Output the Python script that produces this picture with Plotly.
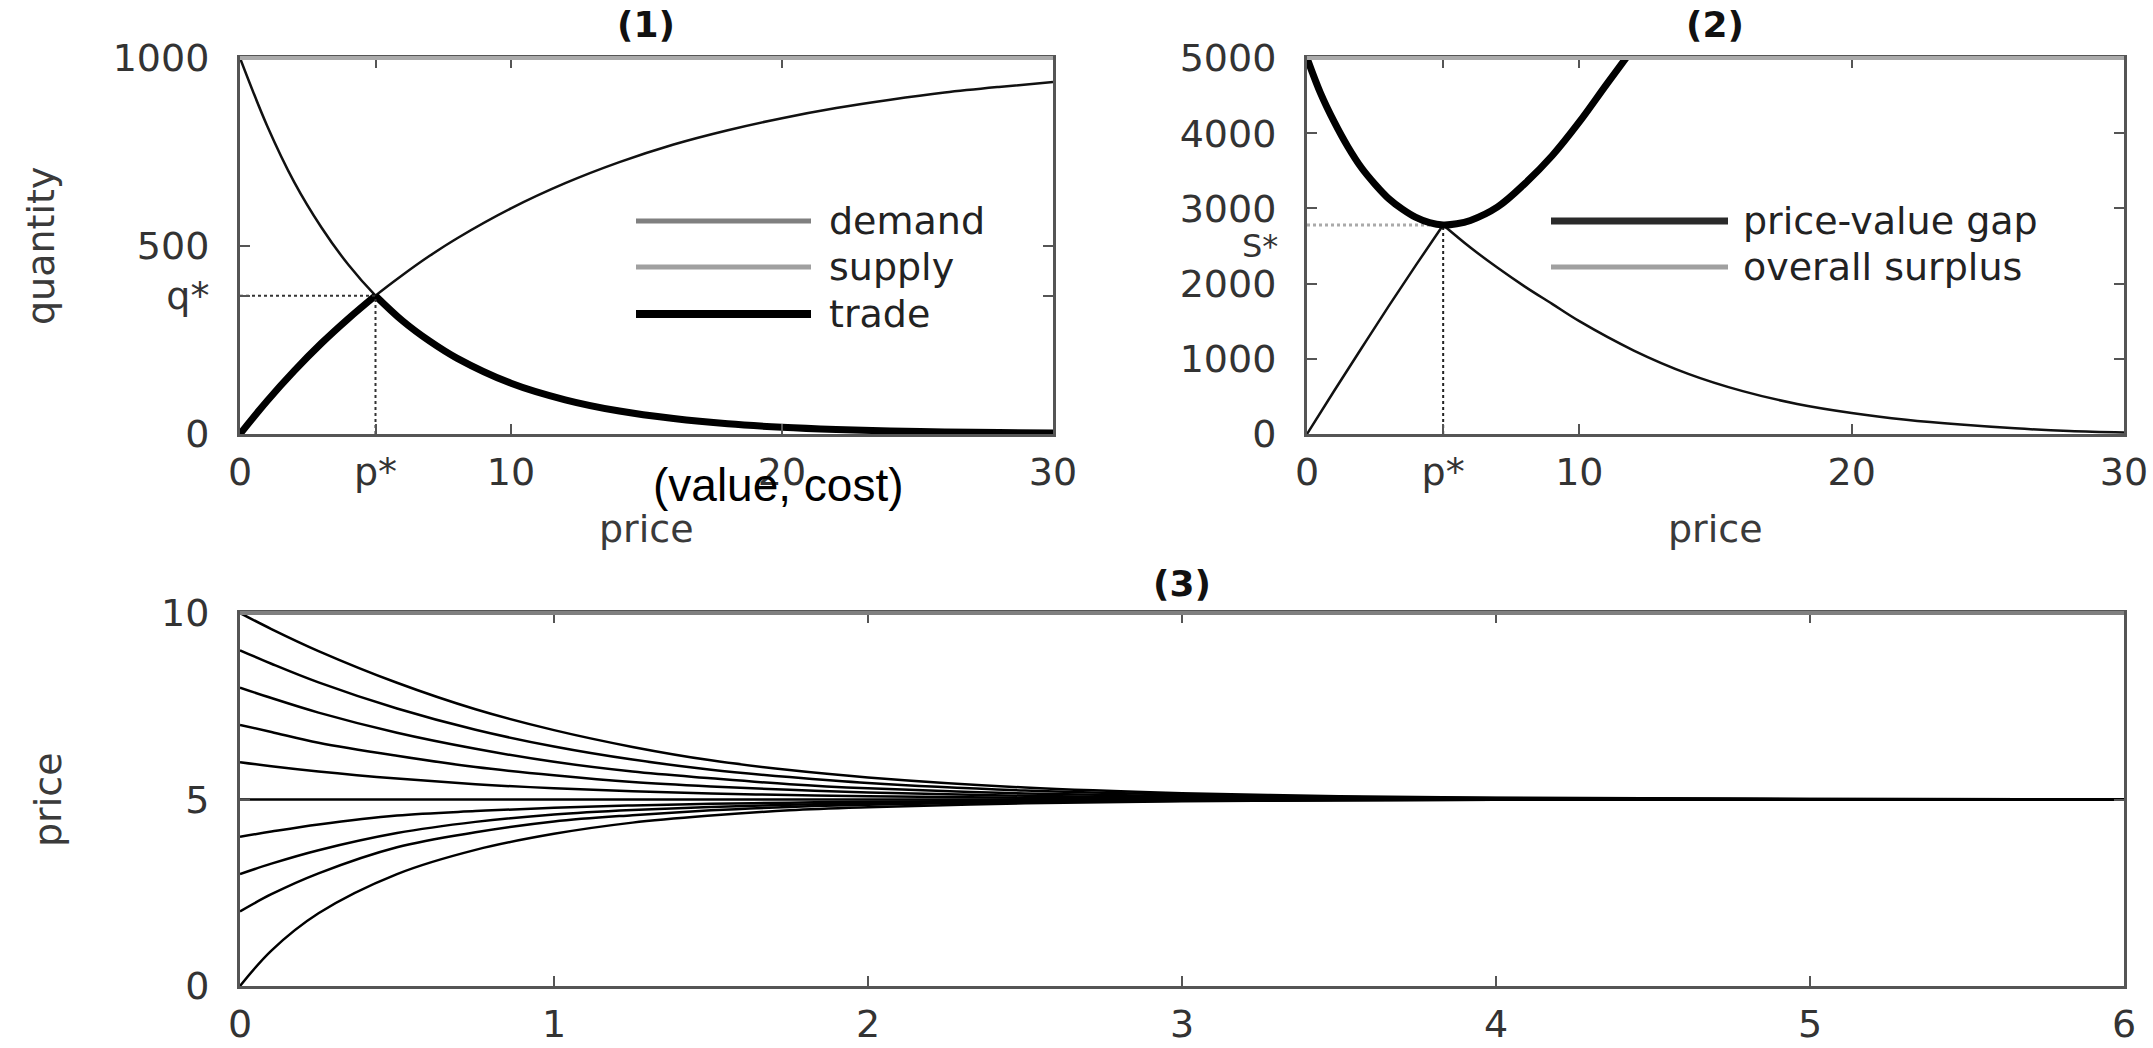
import plotly.graph_objects as go

W, H = 2153, 1048

# ---------------- panel (1): demand / supply / trade ----------------
price_1 = [0, 1, 2, 3, 4, 5, 6, 7, 8, 10, 12, 14, 16, 18, 20, 22, 24, 26, 28, 30]
demand = [1000, 820, 670, 550, 450, 368, 301, 247, 202, 135, 91, 61, 41, 27, 18, 12, 8, 5.5, 3.7, 2.5]
supply = [0, 88, 168, 241, 307, 368, 423, 474, 520, 600, 667, 723, 770, 808, 840, 867, 889, 908, 923, 936]

P_STAR = 5
Q_STAR = 368
S_STAR = 2780

# ---------------- panel (2): price-value gap / overall surplus ----------------
price_gap = [0, 0.5, 1, 1.5, 2, 2.5, 3, 3.5, 4, 4.5, 5, 5.5, 6, 7, 8, 9, 10, 11, 12]
gap = [5000, 4530, 4150, 3820, 3540, 3320, 3130, 2990, 2880, 2810, 2780, 2795, 2840,
       3020, 3330, 3700, 4150, 4650, 5140]
price_surplus = [0, 1, 2, 3, 4, 5, 6, 7, 8, 9, 10, 12, 14, 16, 18, 20, 22, 24, 26, 28, 30]
surplus = [0, 575, 1140, 1700, 2245, 2780, 2480, 2210, 1960, 1730, 1500, 1110, 800, 570,
           400, 280, 190, 125, 75, 40, 20]

# ---------------- panel (3): price paths over time ----------------
time = [0, 0.1, 0.25, 0.5, 0.75, 1, 1.25, 1.5, 1.75, 2, 2.5, 3, 3.5, 4, 5, 6]
path_10 = [10, 9.57, 8.98, 8.13, 7.42, 6.86, 6.41, 6.05, 5.79, 5.59, 5.32, 5.17, 5.09, 5.05, 5.015, 5.004]
path_9 = [9, 8.64, 8.14, 7.44, 6.87, 6.42, 6.07, 5.80, 5.60, 5.44, 5.24, 5.13, 5.07, 5.037, 5.011, 5.003]
path_8 = [8, 7.72, 7.33, 6.79, 6.36, 6.01, 5.75, 5.57, 5.41, 5.30, 5.16, 5.09, 5.048, 5.026, 5.008, 5.002]
path_7 = [7, 6.81, 6.52, 6.17, 5.87, 5.65, 5.47, 5.35, 5.26, 5.19, 5.10, 5.055, 5.030, 5.016, 5.005, 5.001]
path_6 = [6, 5.89, 5.75, 5.56, 5.41, 5.30, 5.22, 5.16, 5.12, 5.09, 5.048, 5.026, 5.014, 5.008, 5.002, 5.001]
path_5 = [5, 5, 5, 5, 5, 5, 5, 5, 5, 5, 5, 5, 5, 5, 5, 5]
path_4 = [4, 4.14, 4.33, 4.57, 4.69, 4.78, 4.84, 4.885, 4.915, 4.94, 4.965, 4.982, 4.991, 4.995, 4.999, 4.9998]
path_3 = [3, 3.28, 3.64, 4.10, 4.40, 4.60, 4.72, 4.80, 4.86, 4.90, 4.95, 4.975, 4.988, 4.994, 4.998, 4.9995]
path_2 = [2, 2.46, 3.02, 3.72, 4.12, 4.41, 4.58, 4.71, 4.80, 4.86, 4.93, 4.965, 4.983, 4.992, 4.998, 4.9995]
path_0 = [0, 0.95, 1.95, 3.00, 3.65, 4.08, 4.38, 4.57, 4.71, 4.79, 4.90, 4.953, 4.978, 4.990, 4.997, 4.999]
paths = [path_10, path_9, path_8, path_7, path_6, path_5, path_4, path_3, path_2, path_0]

# ---------------- layout helpers (pixel -> paper) ----------------
def fx(px):
    return px / W


def fy(py):
    return 1 - py / H


BOX1 = (240, 1053, 58, 434)
BOX2 = (1307, 2124, 58, 434)
BOX3 = (240, 2124, 613, 986)

TICK_FONT = dict(family="DejaVu Sans", size=38, color="#333333")
LABEL_FONT = dict(family="DejaVu Sans", size=38, color="#3a3a3a")

fig = go.Figure()

thin = dict(color="#111111", width=2.5)
thick = dict(color="#000000", width=7)

# panel 1 curves
fig.add_trace(go.Scatter(x=price_1, y=demand, mode="lines", line=dict(shape="spline", **thin),
                         xaxis="x", yaxis="y", name="demand"))
fig.add_trace(go.Scatter(x=price_1, y=supply, mode="lines", line=dict(shape="spline", **thin),
                         xaxis="x", yaxis="y", name="supply"))
k = price_1.index(P_STAR)
trade_left = [min(d, s) for d, s in zip(demand[:k + 1], supply[:k + 1])]
trade_right = [min(d, s) for d, s in zip(demand[k:], supply[k:])]
fig.add_trace(go.Scatter(x=price_1[:k + 1], y=trade_left, mode="lines",
                         line=dict(shape="spline", **thick), xaxis="x", yaxis="y", name="trade"))
fig.add_trace(go.Scatter(x=price_1[k:], y=trade_right, mode="lines",
                         line=dict(shape="spline", **thick), xaxis="x", yaxis="y"))
# equilibrium guides
fig.add_trace(go.Scatter(x=[0, P_STAR], y=[Q_STAR, Q_STAR], mode="lines",
                         line=dict(color="#333333", width=2, dash="dot"), xaxis="x", yaxis="y"))
fig.add_trace(go.Scatter(x=[P_STAR, P_STAR], y=[0, Q_STAR], mode="lines",
                         line=dict(color="#333333", width=2, dash="dot"), xaxis="x", yaxis="y"))

# panel 2 curves
fig.add_trace(go.Scatter(x=[0, P_STAR], y=[S_STAR, S_STAR], mode="lines",
                         line=dict(color="#aaaaaa", width=3, dash="dot"), xaxis="x2", yaxis="y2"))
fig.add_trace(go.Scatter(x=[P_STAR, P_STAR], y=[0, S_STAR], mode="lines",
                         line=dict(color="#222222", width=2, dash="dot"), xaxis="x2", yaxis="y2"))
j = price_surplus.index(P_STAR)
fig.add_trace(go.Scatter(x=price_surplus[:j + 1], y=surplus[:j + 1], mode="lines",
                         line=dict(shape="spline", **thin), xaxis="x2", yaxis="y2"))
fig.add_trace(go.Scatter(x=price_surplus[j:], y=surplus[j:], mode="lines",
                         line=dict(shape="spline", **thin), xaxis="x2", yaxis="y2"))
fig.add_trace(go.Scatter(x=price_gap, y=gap, mode="lines", line=dict(shape="spline", **thick),
                         xaxis="x2", yaxis="y2"))

# panel 3 paths
for path in paths:
    fig.add_trace(go.Scatter(x=time, y=path, mode="lines",
                             line=dict(shape="spline", color="#000000", width=2.5),
                             xaxis="x3", yaxis="y3"))


def axis(box, horizontal, **kw):
    x0, x1, y0, y1 = box
    base = dict(showline=True, linecolor="#555555", linewidth=3, mirror="allticks",
                ticks="inside", ticklen=10, tickwidth=2, tickcolor="#555555",
                showgrid=False, zeroline=False, tickfont=TICK_FONT, fixedrange=True,
                automargin=False)
    if horizontal:
        base["domain"] = [fx(x0), fx(x1)]
        base["ticklabelstandoff"] = 2
    else:
        base["domain"] = [fy(y1), fy(y0)]
        base["ticklabelstandoff"] = 20
    base.update(kw)
    return base


fig.update_layout(
    width=W, height=H, autosize=False,
    margin=dict(l=0, r=0, t=0, b=0, pad=0, autoexpand=False),
    paper_bgcolor="white", plot_bgcolor="white",
    showlegend=False,
    xaxis=axis(BOX1, True, range=[0, 30], tickvals=[0, P_STAR, 10, 20, 30],
               ticktext=["0", "p*", "10", "20", "30"], anchor="y"),
    yaxis=axis(BOX1, False, range=[0, 1000], tickvals=[0, Q_STAR, 500, 1000],
               ticktext=["0", "q*", "500", "1000"], anchor="x"),
    xaxis2=axis(BOX2, True, range=[0, 30], tickvals=[0, P_STAR, 10, 20, 30],
                ticktext=["0", "p*", "10", "20", "30"], anchor="y2"),
    yaxis2=axis(BOX2, False, range=[0, 5000], tickvals=[0, 1000, 2000, 3000, 4000, 5000],
                anchor="x2"),
    xaxis3=axis(BOX3, True, range=[0, 6], tickvals=[0, 1, 2, 3, 4, 5, 6], anchor="y3"),
    yaxis3=axis(BOX3, False, range=[0, 10], tickvals=[0, 5, 10], anchor="x3"),
)

# lighter top frame edge
for x0, x1, y0, _ in (BOX1, BOX2):
    fig.add_shape(type="line", xref="paper", yref="paper", x0=fx(x0), x1=fx(x1), y0=fy(y0), y1=fy(y0),
                  line=dict(color="#aaaaaa", width=4))
fig.add_shape(type="line", xref="paper", yref="paper", x0=fx(BOX3[0]), x1=fx(BOX3[1]),
              y0=fy(BOX3[2]), y1=fy(BOX3[2]), line=dict(color="#808080", width=4))


def text(s, x, y, font, xanchor="center", angle=0):
    fig.add_annotation(text=s, x=fx(x), y=fy(y), xref="paper", yref="paper", showarrow=False,
                       xanchor=xanchor, yanchor="middle", font=font, textangle=angle)


title_font = dict(family="DejaVu Sans", size=36, color="#111111")
text("<b>(1)</b>", 646, 25, title_font)
text("<b>(2)</b>", 1715, 25, title_font)
text("<b>(3)</b>", 1182, 583, title_font)

text("quantity", 41, 246, LABEL_FONT, angle=-90)
text("price", 646, 529, LABEL_FONT)
text("price", 1715, 529, LABEL_FONT)
text("price", 48, 800, LABEL_FONT, angle=-90)
text("S*", 1280, 246, dict(family="DejaVu Sans", size=32, color="#333333"), xanchor="right")
text("(value, cost)", 778, 485,
     dict(family="Liberation Sans Narrow, Liberation Sans", size=46, color="#000000"))

# hand-drawn legends
legend_font = dict(family="DejaVu Sans", size=38, color="#222222")
legend1 = [("demand", "#808080", 5, 221), ("supply", "#a0a0a0", 5, 267), ("trade", "#000000", 8, 314)]
for label, color, width, yy in legend1:
    fig.add_shape(type="line", xref="paper", yref="paper", x0=fx(636), x1=fx(811), y0=fy(yy), y1=fy(yy),
                  line=dict(color=color, width=width))
    text(label, 827, yy, legend_font, xanchor="left")
legend2 = [("price-value gap", "#2a2a2a", 7, 221), ("overall surplus", "#a0a0a0", 5, 267)]
for label, color, width, yy in legend2:
    fig.add_shape(type="line", xref="paper", yref="paper", x0=fx(1551), x1=fx(1728), y0=fy(yy), y1=fy(yy),
                  line=dict(color=color, width=width))
    text(label, 1741, yy, legend_font, xanchor="left")

fig.write_html("out.html")
